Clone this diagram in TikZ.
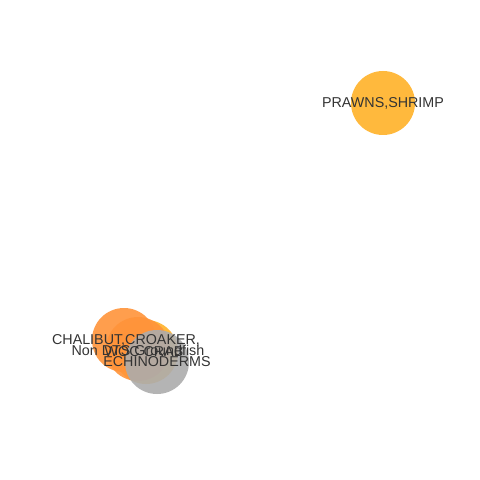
\documentclass[tikz,border=0pt]{standalone}
\usepackage{fontspec}
\setmainfont{Liberation Sans}
\definecolor{corange}{RGB}{255,148,58}
\definecolor{cyellow}{RGB}{255,178,40}
\definecolor{cgray}{RGB}{172,172,172}
\definecolor{ctext}{RGB}{51,51,51}
\begin{document}
\begin{tikzpicture}[x=1bp,y=-1bp,
  bub/.style={circle,minimum size=64bp,inner sep=0pt,fill opacity=0.9,draw=none},
  lab/.style={text=ctext,font=\fontsize{14.3bp}{16bp}\selectfont,inner sep=0pt}]
\useasboundingbox[fill=white] (0,0) rectangle (480,480);
\node[bub,fill=cyellow] (prawn) at (383,103) {};
\node[bub,fill=cyellow] (woc) at (146,352) {};
\node[bub,fill=corange] (chal) at (124,340) {};
\node[bub,fill=corange] (nondts) at (138,349) {};
\node[bub,fill=cgray] (echi) at (157,362) {};
\node[lab] (lprawn) at (383,103) {PRAWNS,SHRIMP};
\node[lab] (lchal) at (126,340) {CHALIBUT,CROAKER,};
\node[lab] (lnon) at (138,350) {Non DTS Groundfish};
\node[lab] (lwoc) at (144,352) {WOC CRAB};
\node[lab] (lechi) at (157,362) {ECHINODERMS};
\end{tikzpicture}
\end{document}
